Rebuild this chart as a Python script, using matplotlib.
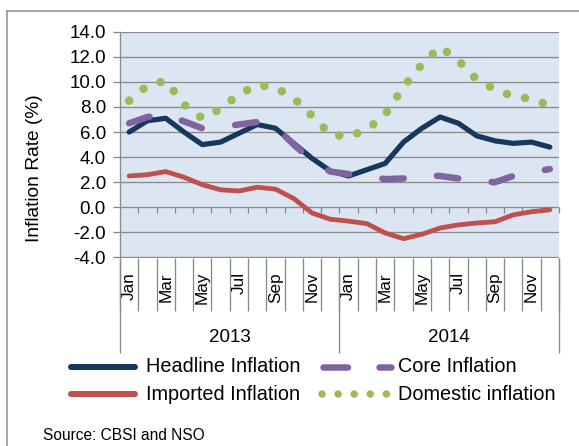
import matplotlib
matplotlib.use('Agg')
import matplotlib.pyplot as plt
import numpy as np
from matplotlib.lines import Line2D

plt.rcParams['font.family'] = ['Liberation Sans', 'DejaVu Sans']

# ---------------- data ----------------
months = ['Jan', 'Feb', 'Mar', 'Apr', 'May', 'Jun', 'Jul', 'Aug', 'Sep', 'Oct', 'Nov', 'Dec']
shown_months = ['Jan', 'Mar', 'May', 'Jul', 'Sep', 'Nov']
years = ['2013', '2014']

headline = [6.0, 6.9, 7.1, 6.0, 5.0, 5.2, 5.9, 6.6, 6.3, 5.1, 3.9, 2.9,
            2.5, 3.0, 3.5, 5.2, 6.3, 7.2, 6.7, 5.7, 5.3, 5.1, 5.2, 4.8]
core = [6.7, 7.2, 7.4, 6.85, 6.3, 6.4, 6.6, 6.8, 6.4, 5.0, 3.7, 2.85,
        2.65, 2.45, 2.25, 2.3, 2.55, 2.5, 2.3, 2.1, 2.0, 2.5, 2.8, 3.05]
imported = [2.5, 2.6, 2.85, 2.4, 1.8, 1.4, 1.3, 1.6, 1.45, 0.7, -0.45, -0.95,
            -1.1, -1.3, -2.05, -2.5, -2.15, -1.65, -1.4, -1.25, -1.15, -0.6, -0.35, -0.2]
domestic = [8.5, 9.7, 10.1, 8.2, 7.1, 7.85, 9.0, 9.75, 9.55, 8.7, 7.3, 5.8,
            5.65, 6.2, 7.4, 9.6, 11.4, 12.8, 11.7, 10.2, 9.4, 8.85, 8.65, 8.1]
y_ticks = [-4.0, -2.0, 0.0, 2.0, 4.0, 6.0, 8.0, 10.0, 12.0, 14.0]

series_names = ['Headline Inflation', 'Core Inflation', 'Imported Inflation', 'Domestic inflation']

# ---------------- style ----------------
C_HEAD = '#17375E'
C_CORE = '#8064A2'
C_IMP = '#C0504D'
C_DOM = '#9BBB59'
GRID = '#898989'
BG = '#DCE6F2'
PX = 0.72  # points per pixel at 100 dpi

W, H = 579, 446
fig = plt.figure(figsize=(W / 100, H / 100), dpi=100)

L, R, T, B = 120, 559, 31.7, 257.5
ax = fig.add_axes([L / W, 1 - B / H, (R - L) / W, (B - T) / H])
ax.set_facecolor(BG)

n = len(headline)
x = np.arange(n) + 0.5
ax.set_xlim(0, n)
ax.set_ylim(y_ticks[0], y_ticks[-1])
ppd = (B - T) / (y_ticks[-1] - y_ticks[0])

# grid & spines
ax.set_axisbelow(True)
ax.grid(axis='y', color=GRID, lw=1.3 * PX)
for s in ['top', 'bottom', 'right']:
    ax.spines[s].set_visible(False)
ax.spines['left'].set_color(GRID)
ax.spines['left'].set_linewidth(1.3 * PX)

ax.set_yticks(y_ticks)
ax.set_yticklabels(['%.1f' % v for v in y_ticks])
ax.tick_params(axis='y', length=7 * PX, width=1.3 * PX, color=GRID, pad=7 * PX,
               labelsize=13.5)

# category (month) tick labels
labels = []
for _y in years:
    for m in months:
        labels.append(m if m in shown_months else '')
ax.set_xticks(x)
ax.set_xticklabels(labels, rotation=90, fontsize=12.3)
ax.tick_params(axis='x', length=0, pad=14.5 * PX)

# tick marks on zero line
ax.vlines(np.arange(1, n + 1), -6 / ppd, 0, colors=GRID, lw=1.3 * PX, clip_on=False, zorder=1.5)

# category separators below the plot
trans = ax.get_xaxis_transform()
hgt = B - T
ax.vlines(np.arange(0, n + 1), -(311 - B) / hgt, 0, colors=GRID, lw=1.3 * PX,
          transform=trans, clip_on=False)
ax.vlines([0, 12, 24], -(353 - B) / hgt, 0, colors=GRID, lw=1.3 * PX,
          transform=trans, clip_on=False)
for k, yr in enumerate(years):
    ax.text(6 + 12 * k, -(338 - B) / hgt, yr, transform=trans, ha='center', va='center',
            fontsize=13.5)

# y label
ax.text(-(L - 35) / (R - L), (B - 168) / hgt, 'Inflation Rate (%)', rotation=90,
        ha='center', va='center', transform=ax.transAxes, fontsize=13.8)

# ---------------- series ----------------
lw_head = 5.2 * PX
lw_core = 6.5 * PX
lw_imp = 4.8 * PX
lw_dom = 8.5 * PX
ax.plot(x, headline, color=C_HEAD, lw=lw_head, solid_joinstyle='round',
        solid_capstyle='round', zorder=3)
ax.plot(x, core, color=C_CORE, lw=lw_core, dashes=(3.3, 5.15), dash_capstyle='round',
        dash_joinstyle='round', zorder=4)
ax.plot(x, imported, color=C_IMP, lw=lw_imp, solid_joinstyle='round',
        solid_capstyle='round', zorder=3)
ax.plot(x, domestic, color=C_DOM, lw=lw_dom, dashes=(0.01, 18.5 / 8.5), dash_capstyle='round',
        zorder=5)

# ---------------- legend (manual) ----------------
def fx(px):
    return px / W

def fy(py):
    return 1 - py / H

r1, r2 = 367, 394
fig.add_artist(Line2D([fx(71), fx(135)], [fy(r1), fy(r1)], color=C_HEAD, lw=6 * PX,
                      solid_capstyle='round'))
fig.add_artist(Line2D([fx(71), fx(135)], [fy(r2), fy(r2)], color=C_IMP, lw=6 * PX,
                      solid_capstyle='round'))
fig.add_artist(Line2D([fx(323.3), fx(390.8)], [fy(r1), fy(r1)], color=C_CORE, lw=6.5 * PX,
                      dashes=(3.77, 4.85), dash_capstyle='round'))
fig.add_artist(Line2D([fx(322), fx(388)], [fy(r2), fy(r2)], color=C_DOM, lw=7.5 * PX,
                      dashes=(0.01, 16 / 7.5), dash_capstyle='round'))
fig.text(fx(146), fy(r1), series_names[0], ha='left', va='center', fontsize=14.3)
fig.text(fx(146), fy(r2), series_names[2], ha='left', va='center', fontsize=14.3)
fig.text(fx(398), fy(r1), series_names[1], ha='left', va='center', fontsize=14.3)
fig.text(fx(398), fy(r2), series_names[3], ha='left', va='center', fontsize=14.3)

fig.text(fx(43), fy(435), 'Source: CBSI and NSO', ha='left', va='center', fontsize=11.2)

# outer frame (left and top edges visible)
fig.add_artist(Line2D([fx(7), fx(7)], [0, fy(11)], color='#8C8C8C', lw=1.5 * PX))
fig.add_artist(Line2D([fx(7), 1], [fy(11), fy(11)], color='#8C8C8C', lw=1.5 * PX))

fig.savefig('out.png', dpi=100)
